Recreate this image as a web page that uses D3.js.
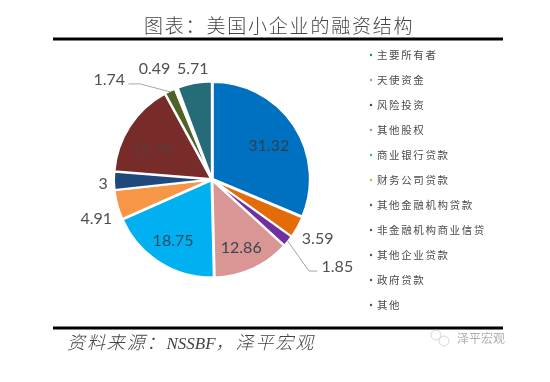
<!DOCTYPE html>
<html><head><meta charset="utf-8">
<script src="https://cdn.jsdelivr.net/npm/d3@7/dist/d3.min.js"></script>
<style>html,body{margin:0;padding:0;background:#fff}svg{display:block;filter:blur(0.4px)}</style>
</head><body><svg id="c" width="550" height="382"></svg>
<script>
const categories=["主要所有者","天使资金","风险投资","其他股权","商业银行贷款","财务公司贷款","其他金融机构贷款","非金融机构商业信贷","其他企业贷款","政府贷款","其他"];
const values=[31.32,3.59,1.85,12.86,18.75,4.91,3,15.78,1.74,0.49,5.71];
const valueLabels=["31.32","3.59","1.85","12.86","18.75","4.91","3","15.78","1.74","0.49","5.71"];
const colors=["#0070C0","#E36C09","#7030A0","#D99694","#00B0F0","#F79646","#1F497D","#772C2A","#4F6228","#FFFFFF","#256B78"];
const legendColors=["#2a7d8c","#E08A4A","#3a4560","#a59a9a","#3fa9b5","#d9b060","#555","#555","#555","#555","#555"];
const labelColors=["#2f3f52","#505050","#505050","#3c4650","#2c4a62","#505050","#505050","#5b3a3c","#505050","#505050","#505050"];
const labelNudge=[[-24,20],[21,12],[50,26],[-11,-20],[13,-21],[-22,14],[-12,3],[22,23],[-61,-13],[-22,-21],[-2,-16]];
const title="图表\uFF1A美国小企业的融资结构";
const sourceParts=["资料来源\uFF1A","NSSBF","\uFF0C泽平宏观"];
const watermark="泽平宏观";

const svg=d3.select("#c");
const cx=212,cy=179.5,R=97,explode=1;
const cjk="'Noto Sans CJK SC','Noto Sans',sans-serif";

svg.append("text").attr("x",144).attr("y",33).attr("font-family",cjk).attr("font-size",19).attr("font-weight",300).attr("letter-spacing",1.8).attr("fill","#444").text(title);
svg.append("rect").attr("x",53).attr("y",37.5).attr("width",450).attr("height",3).attr("fill","#000");
svg.append("rect").attr("x",53).attr("y",326.5).attr("width",450).attr("height",3).attr("fill","#000");
const src=svg.append("text").attr("x",67).attr("y",349).attr("font-family","'Liberation Serif',"+cjk).attr("font-size",18).attr("font-style","italic").attr("font-weight",300).attr("fill","#444");
src.selectAll("tspan").data(sourceParts).join("tspan").attr("letter-spacing",(d,i)=>i===1?0:1.9).attr("font-size",(d,i)=>i===1?17:18).text(d=>d);

const pie=d3.pie().sort(null).value(d=>d);
const arcs=pie(values);
const arc=d3.arc().innerRadius(0).outerRadius(R);
const g=svg.append("g").attr("transform",`translate(${cx},${cy})`);
const mid=d=>(d.startAngle+d.endAngle)/2;
g.selectAll("path").data(arcs).join("path").attr("d",arc)
  .attr("transform",d=>`translate(${explode*Math.sin(mid(d))},${-explode*Math.cos(mid(d))})`)
  .attr("fill",(d,i)=>colors[i]).attr("stroke","#fff").attr("stroke-width",2).attr("stroke-linejoin","miter");

const rim=d=>[R*Math.sin(mid(d)),-R*Math.cos(mid(d))];
const line=d3.line();
[[8,[[-30,-8],[-42,-8]]],[2,[[21.6,30.5],[30,30.5]]]].forEach(([i,tail])=>{
  const p=rim(arcs[i]);
  g.append("path").attr("class","leader").attr("fill","none").attr("stroke","#a6a6a6").attr("stroke-width",1)
    .attr("d",line([p,[p[0]+tail[0][0],p[1]+tail[0][1]],[p[0]+tail[1][0],p[1]+tail[1][1]]]));
});
g.selectAll("text").data(arcs).join("text")
  .attr("x",(d,i)=>rim(d)[0]+labelNudge[i][0]).attr("y",(d,i)=>rim(d)[1]+labelNudge[i][1])
  .attr("dy","0.35em").attr("text-anchor","middle").attr("font-family","Lato,'Open Sans',sans-serif").attr("font-size",16)
  .attr("fill",(d,i)=>labelColors[i]).text((d,i)=>valueLabels[i]);

const legendY=d3.scalePoint().domain(categories).range([55,305]);
const lg=svg.append("g").selectAll("g").data(categories).join("g").attr("transform",d=>`translate(371,${legendY(d)})`);
lg.append("circle").attr("r",1.2).attr("fill",(d,i)=>legendColors[i]);
lg.append("text").attr("x",6).attr("dy","0.36em").attr("font-family",cjk).attr("font-size",10.5).attr("letter-spacing",1.6).attr("fill","#4a4a4a").text(d=>d);

const wm=svg.append("g").attr("opacity",0.6);
wm.append("text").attr("x",457).attr("y",343).attr("font-family",cjk).attr("font-size",12).attr("fill","#777").text(watermark);
wm.append("circle").attr("cx",436).attr("cy",335).attr("r",5).attr("fill","none").attr("stroke","#bbb");
wm.append("circle").attr("cx",444).attr("cy",341).attr("r",5).attr("fill","none").attr("stroke","#bbb");
</script></body></html>
